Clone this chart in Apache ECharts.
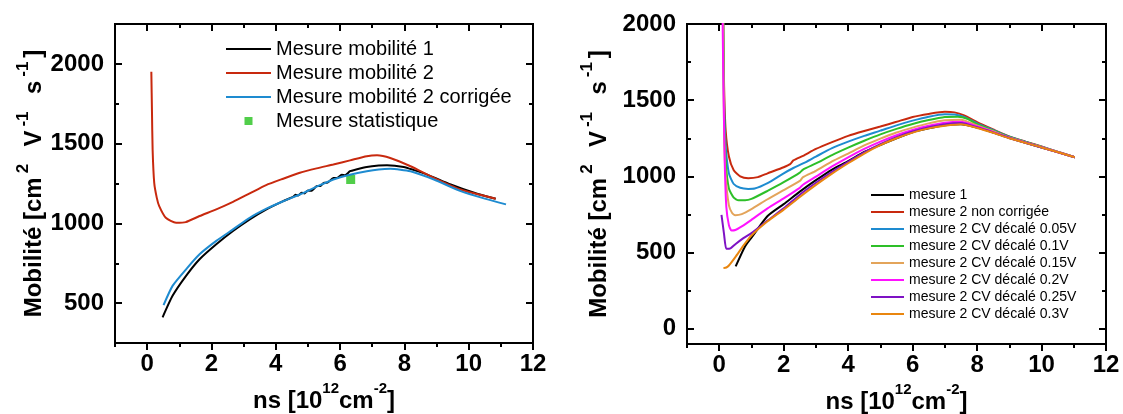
<!DOCTYPE html>
<html><head><meta charset="utf-8">
<script src="https://cdn.jsdelivr.net/npm/echarts@6/dist/echarts.min.js"></script>
<style>html,body{margin:0;padding:0;background:#fff}#c{width:1123px;height:414px}</style>
</head><body><div id="c"></div>
<script>
// ---------- data (left panel) ----------
const leftMesure1 = [[0.48,411],[0.79,546],[1.21,671],[1.63,775],[2.15,869],[2.67,952],[3.19,1025],[3.71,1088],[4.23,1139],[4.55,1168],[4.62,1180],[4.7,1174],[4.8,1192],[4.9,1188],[5.0,1206],[5.1,1204],[5.27,1233],[5.4,1236],[5.5,1255],[5.6,1254],[5.79,1285],[5.9,1284],[6.05,1305],[6.15,1302],[6.31,1327],[6.5,1338],[6.83,1354],[7.2,1363],[7.46,1365],[7.98,1354],[8.3,1334],[8.71,1306],[9.44,1244],[10.17,1192],[10.84,1154]];
const leftMesure2 = [[0.13,1950],[0.15,1700],[0.17,1462],[0.22,1254],[0.3,1160],[0.375,1108],[0.58,1035],[0.9,1004],[1.2,1008],[1.63,1046],[2.15,1088],[2.67,1135],[3.19,1188],[3.7,1240],[4.23,1280],[4.75,1317],[5.27,1345],[5.79,1369],[6.31,1395],[6.83,1421],[7.15,1427],[7.56,1410],[8.19,1358],[8.92,1285],[9.75,1212],[10.84,1154]];
const leftMesure2Corr = [[0.51,487],[0.79,608],[1.21,712],[1.63,806],[2.15,890],[2.67,962],[3.19,1035],[3.71,1092],[4.23,1139],[4.75,1181],[5.27,1230],[5.79,1275],[6.31,1305],[6.83,1327],[7.2,1338],[7.56,1342],[8.19,1327],[8.92,1275],[9.75,1202],[10.5,1155],[11.16,1119]];
const leftStat = [[6.33,1275]];
const leftNames = ['Mesure mobilité 1','Mesure mobilité 2','Mesure mobilité 2 corrigée','Mesure statistique'];

// ---------- data (right panel) ----------
const rMesure1 = [[0.51,409],[0.8,540],[1,598],[1.5,740],[2,818],[2.5,900],[3,975],[3.5,1045],[4,1100],[4.5,1160],[5,1206],[5.5,1250],[6,1290],[6.5,1315],[7,1335],[7.5,1342],[8,1320],[8.5,1288],[9,1252],[10,1190],[11.03,1126]];
const rNonCorr = [[0.12,2100],[0.15,1600],[0.2,1300],[0.3,1130],[0.45,1040],[0.65,1000],[0.9,988],[1.2,995],[1.5,1020],[2.0,1060],[2.2,1080],[2.3,1105],[2.6,1135],[3,1180],[3.5,1225],[4,1266],[4.5,1298],[5,1327],[5.5,1358],[6,1390],[6.5,1410],[7,1424],[7.3,1420],[7.6,1400],[8,1356],[8.5,1308],[9,1262],[9.5,1228],[10,1196],[10.5,1162],[11.03,1126]];
const rCV005 = [[0.12,2100],[0.15,1500],[0.2,1200],[0.3,1020],[0.45,950],[0.65,925],[0.9,918],[1.1,920],[1.5,955],[2,1020],[2.3,1055],[2.6,1085],[3,1130],[3.5,1185],[4,1228],[4.5,1266],[5,1300],[5.5,1335],[6,1366],[6.5,1392],[7,1408],[7.3,1406],[7.6,1390],[8,1348],[8.5,1304],[9,1260],[10,1194],[11.03,1126]];
const rCV010 = [[0.12,2100],[0.15,1400],[0.2,1100],[0.3,920],[0.45,860],[0.6,843],[0.8,843],[1,852],[1.5,905],[2,962],[2.5,1025],[2.6,1045],[3,1085],[3.5,1140],[4,1189],[4.5,1234],[5,1276],[5.5,1312],[6,1344],[6.5,1370],[7,1390],[7.4,1392],[7.7,1378],[8,1342],[8.5,1300],[9,1258],[10,1193],[11.03,1126]];
const rCV015 = [[0.12,2100],[0.15,1300],[0.2,1000],[0.3,810],[0.4,760],[0.5,745],[0.7,752],[1,785],[1.5,850],[2,910],[2.5,970],[2.6,995],[3,1036],[3.5,1098],[4,1150],[4.5,1203],[5,1248],[5.5,1288],[6,1320],[6.5,1348],[7,1368],[7.5,1372],[8,1334],[8.5,1296],[9,1256],[10,1192],[11.03,1126]];
const rCV020 = [[0.1,2100],[0.13,1600],[0.17,1100],[0.22,800],[0.3,680],[0.38,645],[0.5,648],[0.7,672],[1,715],[1.5,790],[2,856],[2.5,925],[2.6,945],[3,998],[3.5,1065],[4,1125],[4.5,1180],[5,1228],[5.5,1270],[6,1304],[6.5,1332],[7,1352],[7.5,1358],[8,1328],[8.5,1292],[9,1254],[10,1191],[11.03,1126]];
const rCV025 = [[0.07,748],[0.15,620],[0.22,525],[0.35,528],[0.5,555],[0.75,595],[1,628],[1.5,710],[2,790],[2.5,880],[3,958],[3.5,1030],[4,1096],[4.5,1158],[5,1212],[5.5,1258],[6,1294],[6.5,1322],[7,1342],[7.5,1350],[8,1322],[8.5,1288],[9,1252],[10,1190],[11.03,1126]];
const rCV030 = [[0.13,398],[0.22,402],[0.3,415],[0.5,470],[0.75,545],[1,612],[1.5,705],[2,782],[2.5,865],[3,944],[3.5,1018],[4,1086],[4.5,1150],[5,1205],[5.5,1250],[6,1287],[6.5,1315],[7,1332],[7.5,1342],[8,1318],[8.5,1286],[9,1250],[10,1190],[11.03,1126]];
const rightNames = ['mesure 1','mesure 2 non corrigée','mesure 2 CV décalé 0.05V','mesure 2 CV décalé 0.1V','mesure 2 CV décalé 0.15V','mesure 2 CV décalé 0.2V','mesure 2 CV décalé 0.25V','mesure 2 CV décalé 0.3V'];

// ---------- ticks ----------
const xMajor = [0,2,4,6,8,10,12];
const xMinor = [-1,1,3,5,7,9,11];
const yLeftMajor = [500,1000,1500,2000];
const yLeftMinor = [750,1250,1750];
const yRightMajor = [0,500,1000,1500,2000];
const yRightMinor = [250,750,1250,1750];

const FONT = '"Liberation Sans", Arial, sans-serif';
const C = {black:'#000000', red:'#c8290e', blue:'#1e8bd0', green:'#2dbf28', tan:'#e3a45a', magenta:'#ff12ff', purple:'#7e12c4', orange:'#e9860f', sq:'#26c21d'};

const richT = {
  b:{fontSize:24,fontWeight:'bold',fontFamily:FONT,color:'#000',padding:[8,0,0,0]},
  s:{fontSize:17,fontWeight:'bold',fontFamily:FONT,color:'#000',verticalAlign:'top',padding:[0,4,0,4]}
};
const yName = '{b|Mobilité [cm}{s|2}{b|  V}{s|-1}{b|  s}{s|-1}{b|]}';
const xName = '{b|ns [10}{s|12}{b|cm}{s|-2}{b|]}';
const xRich = {
  b:{fontSize:24,fontWeight:'bold',fontFamily:FONT,color:'#000',padding:[8,0,0,0]},
  s:{fontSize:15,fontWeight:'bold',fontFamily:FONT,color:'#000',verticalAlign:'top'}
};

const baseGrid = {outerBoundsMode:'none', containLabel:false};
const gridL = Object.assign({left:115, top:24, width:418, height:319}, baseGrid);
const gridR = Object.assign({left:687, top:24, width:419, height:320}, baseGrid);

function ax(gi, pos, min, max, ticks, len, inside, labels, extra){
  const a = {
    gridIndex:gi, type:'value', position:pos, min:min, max:max,
    axisLine:{show:true, onZero:false, lineStyle:{color:'#000', width:2}},
    axisTick:{show:true, inside:inside, length:len, customValues:ticks, lineStyle:{color:'#000', width:2}},
    axisLabel: labels ? {show:true, customValues:labels, margin:(pos==='bottom'?9:11), fontSize:24, fontWeight:'bold', fontFamily:FONT, color:'#000', formatter:function(v){return String(v);}} : {show:false},
    splitLine:{show:false}, minorTick:{show:false}
  };
  return Object.assign(a, extra||{});
}

const xAxes = [], yAxes = [];
// grid 0 (left main), grid 1 (right main), grid 2/3 overlays for minor ticks
const allGrids = [gridL, gridR, Object.assign({}, gridL), Object.assign({}, gridR)];
xAxes.push(ax(0,'bottom',-1,12,xMajor,7,false,xMajor,{name:xName,nameLocation:'middle',nameGap:34,nameTextStyle:{rich:xRich}}));
xAxes.push(ax(0,'top',-1,12,xMajor,7,true,null));
yAxes.push(ax(0,'left',250,2250,yLeftMajor,7,true,yLeftMajor,{name:yName,nameLocation:'middle',nameGap:66,nameTextStyle:{rich:richT}}));
yAxes.push(ax(0,'right',250,2250,yLeftMajor,7,true,null));
xAxes.push(ax(1,'bottom',-1,12,xMajor,7,false,xMajor,{name:xName,nameLocation:'middle',nameGap:34,nameTextStyle:{rich:xRich}}));
xAxes.push(ax(1,'top',-1,12,xMajor,7,true,null));
yAxes.push(ax(1,'left',-100,2000,yRightMajor,7,true,yRightMajor,{name:yName,nameLocation:'middle',nameGap:76,nameTextStyle:{rich:richT}}));
yAxes.push(ax(1,'right',-100,2000,yRightMajor,7,true,null));
xAxes.push(ax(2,'bottom',-1,12,xMinor,4,false,null));
xAxes.push(ax(2,'top',-1,12,xMinor,4,true,null));
yAxes.push(ax(2,'left',250,2250,yLeftMinor,4,true,null));
yAxes.push(ax(2,'right',250,2250,yLeftMinor,4,true,null));
xAxes.push(ax(3,'bottom',-1,12,xMinor,4,false,null));
xAxes.push(ax(3,'top',-1,12,xMinor,4,true,null));
yAxes.push(ax(3,'left',-100,2000,yRightMinor,4,true,null));
yAxes.push(ax(3,'right',-100,2000,yRightMinor,4,true,null));

function line(name, data, color, xi, yi, w){
  return {name:name, type:'line', data:data, xAxisIndex:xi, yAxisIndex:yi, symbol:'none', showSymbol:false,
    smooth:0.2, clip:true, silent:true, animation:false,
    lineStyle:{color:color, width:w||2}, itemStyle:{color:color}};
}

const series = [
  line(leftNames[0], leftMesure1, C.black, 0, 0),
  line(leftNames[1], leftMesure2, C.red, 0, 0),
  line(leftNames[2], leftMesure2Corr, C.blue, 0, 0),
  {name:leftNames[3], type:'scatter', data:leftStat, xAxisIndex:0, yAxisIndex:0, symbol:'rect', symbolSize:9, itemStyle:{color:C.sq}, animation:false, silent:true},
  line(rightNames[0], rMesure1, C.black, 2, 2),
  line(rightNames[1], rNonCorr, C.red, 2, 2),
  line(rightNames[2], rCV005, C.blue, 2, 2),
  line(rightNames[3], rCV010, C.green, 2, 2),
  line(rightNames[4], rCV015, C.tan, 2, 2),
  line(rightNames[5], rCV020, C.magenta, 2, 2),
  line(rightNames[6], rCV025, C.purple, 2, 2),
  line(rightNames[7], rCV030, C.orange, 2, 2)
];

const hideDot = {opacity:0};
const chart = echarts.init(document.getElementById('c'), null, {renderer:'canvas'});
chart.setOption({
  animation:false,
  backgroundColor:'#fff',
  grid: allGrids,
  xAxis: xAxes,
  yAxis: yAxes,
  legend: [
    {orient:'vertical', left:220, top:34, itemWidth:45, itemHeight:8, itemGap:4, selectedMode:false,
     textStyle:{fontSize:20, fontFamily:FONT, color:'#000'},
     data:[{name:leftNames[0], itemStyle:hideDot},{name:leftNames[1], itemStyle:hideDot},{name:leftNames[2], itemStyle:hideDot},{name:leftNames[3], icon:'path://M0,0L10,0L10,10L0,10Z'}]},
    {orient:'vertical', left:865, top:183, itemWidth:33, itemHeight:8, itemGap:3, selectedMode:false,
     textStyle:{fontSize:14, fontFamily:FONT, color:'#000'},
     data: rightNames.map(function(n){return {name:n, itemStyle:hideDot};})}
  ],
  series: series
});
</script></body></html>
